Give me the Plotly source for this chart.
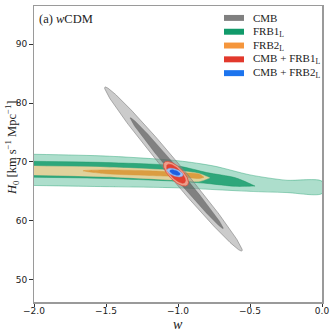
import numpy as np
import plotly.graph_objects as go

# ---------------- data ----------------
# FRB1_L band (95% = outer, 68% = inner), H0 edges vs w
frb1_out_w = [-2.0, -1.5, -1.0, -0.75, -0.5, -0.25, 0.0]
frb1_out_hi = [71.3, 71.0, 70.2, 69.3, 67.8, 66.9, 66.7]
frb1_out_lo = [66.0, 65.8, 65.6, 65.3, 65.0, 64.8, 64.65]

frb1_in_w = [-2.0, -1.5, -1.0, -0.8, -0.6, -0.465]
frb1_in_hi = [70.1, 69.9, 69.3, 68.2, 67.3, 65.9]
frb1_in_lo = [67.4, 67.2, 66.7, 66.35, 65.85, 65.9]

# FRB2_L band
frb2_out_w = [-2.0, -1.5, -1.0, -0.85, -0.78]
frb2_out_hi = [69.3, 69.1, 68.5, 68.0, 67.3]
frb2_out_lo = [67.8, 67.5, 66.9, 66.7, 67.3]

frb2_in_w = [-1.66, -1.5, -1.2, -1.0, -0.85, -0.82]
frb2_in_hi = [68.5, 68.65, 68.5, 68.2, 67.9, 67.4]
frb2_in_lo = [68.5, 68.0, 67.7, 67.5, 67.2, 67.4]

# Elliptical contours: centre w, centre H0, half-extent w, half-extent H0, correlation
cmb_out = dict(w=-1.032, h=68.8, sw=0.478, sh=13.95, rho=-0.990)
cmb_in = dict(w=-1.009, h=68.1, sw=0.324, sh=9.43, rho=-0.9937)
red_out = dict(w=-1.014, h=68.0, sw=0.087, sh=2.10, rho=-0.70)
red_in = dict(w=-1.014, h=68.0, sw=0.066, sh=1.62, rho=-0.72)
blue_out = dict(w=-1.021, h=68.2, sw=0.0561, sh=0.741, rho=-0.544)
blue_in = dict(w=-1.021, h=68.2, sw=0.0363, sh=0.484, rho=-0.534)

legend_names = ["CMB", "FRB1<sub>L</sub>", "FRB2<sub>L</sub>",
                "CMB + FRB1<sub>L</sub>", "CMB + FRB2<sub>L</sub>"]
legend_colors = ["#808080", "#119a6a", "#f5963c", "#e2392c", "#1c74ee"]

x_ticks = [-2.0, -1.5, -1.0, -0.5, 0.0]
x_ticktext = ["\u22122.0", "\u22121.5", "\u22121.0", "\u22120.5", "0.0"]
y_ticks = [50, 60, 70, 80, 90]


def ellipse(p, n=240):
    t = np.linspace(0, 2 * np.pi, n)
    d = np.arccos(p["rho"])
    return p["w"] + p["sw"] * np.cos(t), p["h"] + p["sh"] * np.cos(t + d)


def band(w, hi, lo):
    return list(w) + list(w)[::-1], list(hi) + list(lo)[::-1]


fig = go.Figure()


def add_poly(x, y, fill, line_color, lw, spline=False):
    fig.add_trace(go.Scatter(
        x=x, y=y, mode="lines", fill="toself", fillcolor=fill,
        line=dict(color=line_color, width=lw,
                  shape="spline" if spline else "linear", smoothing=0.8),
        showlegend=False, hoverinfo="skip"))


# FRB1
x, y = band(frb1_out_w, frb1_out_hi, frb1_out_lo)
add_poly(x, y, "rgba(40,168,120,0.38)", "rgba(40,160,115,0.55)", 0.8, True)
x, y = band(frb1_in_w, frb1_in_hi, frb1_in_lo)
add_poly(x, y, "rgba(24,158,108,0.85)", "rgba(24,150,100,0.9)", 0.5, True)
# FRB2
x, y = band(frb2_out_w, frb2_out_hi, frb2_out_lo)
add_poly(x, y, "rgba(234,212,158,0.95)", "rgba(234,205,150,0.9)", 0.5, True)
x, y = band(frb2_in_w, frb2_in_hi, frb2_in_lo)
add_poly(x, y, "rgba(218,152,58,0.92)", "rgba(218,152,58,0.9)", 0.5, True)
# CMB
x, y = ellipse(cmb_out)
add_poly(x, y, "rgba(140,140,140,0.45)", "rgba(120,120,120,0.7)", 0.8)
x, y = ellipse(cmb_in)
add_poly(x, y, "rgba(80,80,80,0.6)", "rgba(80,80,80,0.6)", 0.5)
# CMB + FRB1
x, y = ellipse(red_out)
add_poly(x, y, "rgba(242,160,140,0.95)", "#e0503e", 0.8)
x, y = ellipse(red_in)
add_poly(x, y, "rgba(226,60,45,0.95)", "rgba(226,60,45,1)", 0.5)
# CMB + FRB2
x, y = ellipse(blue_out)
add_poly(x, y, "rgba(160,196,245,1)", "rgba(120,170,240,1)", 0.5)
x, y = ellipse(blue_in)
add_poly(x, y, "rgba(30,95,225,1)", "rgba(30,95,225,1)", 0.5)

# ---------------- layout ----------------
W, H = 333, 335
ML, MR, MT, MB = 34, 11, 4, 33
PW, PH = W - ML - MR, H - MT - MB


def px_to_paper(px, py):
    return (px - ML) / PW, (H - MB - py) / PH


shapes = []
annotations = []
# manual legend (patches + labels)
for i, (name, col) in enumerate(zip(legend_names, legend_colors)):
    yc = 16 + i * 13.9
    x0, y0 = px_to_paper(224, yc - 3)
    x1, y1 = px_to_paper(244, yc + 3)
    shapes.append(dict(type="rect", xref="paper", yref="paper",
                       x0=x0, x1=x1, y0=y1, y1=y0,
                       fillcolor=col, line=dict(width=0)))
    tx, ty = px_to_paper(251, yc)
    annotations.append(dict(text=name, xref="paper", yref="paper", x=tx, y=ty,
                            xanchor="left", yanchor="middle", showarrow=False,
                            font=dict(family="Liberation Serif", size=11, color="#222")))

tx, ty = px_to_paper(37, 17)
annotations.append(dict(text="(a) <i>w</i>CDM", xref="paper", yref="paper", x=tx, y=ty,
                        xanchor="left", yanchor="middle", showarrow=False,
                        font=dict(family="Liberation Serif", size=12.5, color="#222")))
tx, ty = px_to_paper(12, 147)
annotations.append(dict(text="<i>H</i><sub>0</sub> [km s<sup>\u22121</sup> Mpc<sup>\u22121</sup>]",
                        xref="paper", yref="paper", x=tx, y=ty, textangle=-90,
                        xanchor="center", yanchor="middle", showarrow=False,
                        font=dict(family="Liberation Serif", size=12.5, color="#222")))
tx, ty = px_to_paper(178, 325)
annotations.append(dict(text="<i>w</i>", xref="paper", yref="paper", x=tx, y=ty,
                        xanchor="center", yanchor="middle", showarrow=False,
                        font=dict(family="Liberation Serif", size=14, color="#222")))

axis_common = dict(
    showline=True, linecolor="#9a9a9a", linewidth=1.5, mirror=True,
    ticks="outside", ticklen=3.5, tickwidth=1, tickcolor="#333",
    showgrid=False, zeroline=False,
    tickfont=dict(family="DejaVu Sans", size=9, color="#222"),
)

fig.update_layout(
    width=W, height=H,
    margin=dict(l=ML, r=MR, t=MT, b=MB),
    paper_bgcolor="white", plot_bgcolor="white",
    showlegend=False,
    xaxis=dict(range=[-2.0, 0.0], tickvals=x_ticks, ticktext=x_ticktext,
               ticklabelstandoff=-4, **axis_common),
    yaxis=dict(range=[46.2, 96.5], tickvals=y_ticks, **axis_common),
    shapes=shapes,
    annotations=annotations,
)

fig.write_html(
    "out.html",
    config={"displayModeBar": False, "staticPlot": True},
    post_script="document.body.style.margin='0';document.body.style.overflow='hidden';",
)
